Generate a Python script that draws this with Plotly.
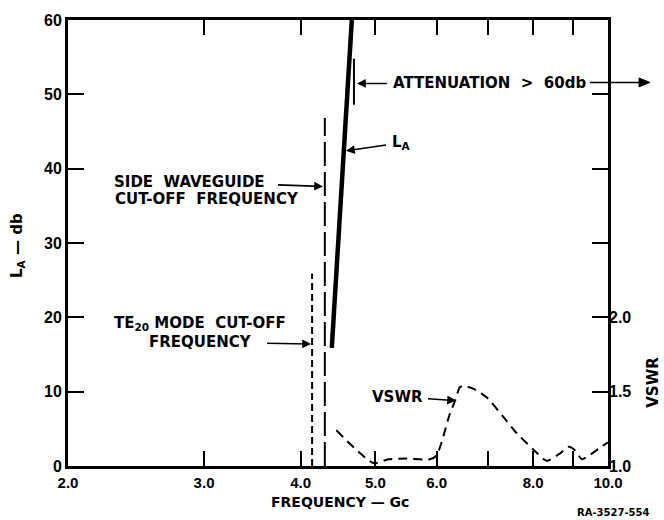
import math
import plotly.graph_objects as go

# ---------------- data ----------------
la_freq = [4.39, 4.66]          # Gc
la_db = [15.9, 60.0]            # L_A in db

te20_freq = [4.14, 4.14]
te20_db = [0.0, 25.9]

side_freq = [4.30, 4.30]
side_db = [0.0, 46.8]

atten_freq = [4.69, 4.69]
atten_db = [48.6, 54.8]

vswr_freq = [4.45, 4.97, 5.20, 5.49, 5.88, 6.00, 6.09, 6.24, 6.34, 6.43, 6.50,
             6.69, 6.97, 7.32, 7.62, 8.01, 8.33, 8.67, 8.89, 9.07, 9.25, 9.57,
             9.81, 10.0]
vswr = [1.24, 1.02, 1.045, 1.05, 1.045, 1.07, 1.16, 1.35, 1.44, 1.53, 1.54,
        1.52, 1.46, 1.33, 1.22, 1.11, 1.035, 1.085, 1.13, 1.105, 1.045, 1.09,
        1.13, 1.16]

x_tickvals = [2, 3, 4, 5, 6, 8, 10]
x_ticktext = ["2.0", "3.0", "4.0", "5.0", "6.0", "8.0", "10.0"]
x_minor_tickvals = [7, 9]
y_tickvals = [0, 10, 20, 30, 40, 50, 60]
y2_tickvals = [1.0, 1.5, 2.0]
y2_ticktext = ["1.0", "1.5", "2.0"]

# ---------------- layout constants ----------------
W, H = 664, 520
L, R, T, B = 68, 608, 16, 466
FONT = "DejaVu Sans"
TICKFONT = "Liberation Sans"


def pp(px, py):
    return (px - L) / (R - L), (B - py) / (B - T)


fig = go.Figure()

fig.add_trace(go.Scatter(x=la_freq, y=la_db, mode="lines",
                         line=dict(color="black", width=4.5), showlegend=False))
fig.add_trace(go.Scatter(x=te20_freq, y=te20_db, mode="lines",
                         line=dict(color="black", width=2, dash="7px,4px"), showlegend=False))
fig.add_trace(go.Scatter(x=side_freq, y=side_db, mode="lines",
                         line=dict(color="black", width=2, dash="24px,6px"), showlegend=False))
fig.add_trace(go.Scatter(x=atten_freq, y=atten_db, mode="lines",
                         line=dict(color="black", width=2), showlegend=False))
fig.add_trace(go.Scatter(x=vswr_freq, y=vswr, mode="lines", yaxis="y2",
                         line=dict(color="black", width=2, dash="9px,6px", shape="spline", smoothing=0.6),
                         showlegend=False))

annotations = []
shapes = []


def text(t, px, py, size=15, xanchor="left", align="left", angle=0, font=FONT, weight="bold"):
    x, y = pp(px, py)
    annotations.append(dict(text=t, x=x, y=y, xref="paper", yref="paper",
                            xanchor=xanchor, yanchor="middle", align=align,
                            showarrow=False, textangle=angle,
                            font=dict(family=font, size=size, color="black", weight=weight)))


def labelled_arrow(t, hx, hy, cx, cy, size=15, start=4):
    # text centred at (cx, cy); arrow drawn from text edge to head (hx, hy)
    x, y = pp(hx, hy)
    annotations.append(dict(text=t, x=x, y=y, xref="paper", yref="paper",
                            ax=cx - hx, ay=cy - hy, axref="pixel", ayref="pixel",
                            showarrow=True, arrowhead=2, arrowsize=1.1, arrowwidth=1.6,
                            arrowcolor="black", standoff=0, startstandoff=start,
                            font=dict(family=FONT, size=size, color="black", weight="bold")))


def plain_arrow(hx, hy, tx, ty):
    x0, y0 = pp(tx, ty)
    x1, _ = pp(hx, hy)
    xa, ya = pp(hx - 11, hy - 4.5)
    xb, yb = pp(hx - 11, hy + 4.5)
    xe, ye = pp(hx - 9, hy)
    shapes.append(dict(type="line", xref="paper", yref="paper", x0=x0, y0=y0, x1=xe, y1=ye,
                       line=dict(color="black", width=1.6)))
    shapes.append(dict(type="path", xref="paper", yref="paper",
                       path=f"M {x1} {y0} L {xa} {ya} L {xb} {yb} Z",
                       fillcolor="black", line=dict(color="black", width=1)))


labelled_arrow("ATTENUATION  &gt;  60db", 357, 80, 489, 80)
plain_arrow(650, 79, 590, 79)

labelled_arrow("L<sub>A</sub>", 346, 148, 401, 140)

labelled_arrow("SIDE  WAVEGUIDE", 323, 184, 189, 179, start=12)
text("CUT-OFF  FREQUENCY", 113, 197)

text("TE<sub>20</sub> MODE  CUT-OFF", 200, 322, xanchor="center", align="center")
labelled_arrow("FREQUENCY", 311, 343, 200, 341, start=14)

labelled_arrow("VSWR", 456, 400, 397, 396)

text("FREQUENCY — Gc", 340, 502, size=14, xanchor="center")
text("L<sub>A</sub> — db", 18, 244, xanchor="center", angle=-90)
text("VSWR", 653, 382, xanchor="center", angle=-90)
text("RA-3527-554", 613, 513, size=10, xanchor="center", font="DejaVu Sans")

tickfont = dict(family=TICKFONT, size=15, color="black", weight="bold")

fig.update_layout(
    width=W, height=H,
    margin=dict(l=L, r=W - R, t=T, b=H - B, pad=0),
    paper_bgcolor="white", plot_bgcolor="white",
    showlegend=False,
    annotations=annotations,
    shapes=shapes,
    xaxis=dict(type="log", range=[math.log10(2), math.log10(10)],
               tickvals=x_tickvals, ticktext=x_ticktext,
               ticks="inside", ticklen=15, tickwidth=2, tickcolor="black",
               minor=dict(tickvals=x_minor_tickvals, ticks="inside", ticklen=15,
                          tickwidth=2, tickcolor="black", showgrid=False),
               showline=True, linewidth=3, linecolor="black", mirror="ticks",
               showgrid=False, zeroline=False, ticklabelstandoff=1,
               tickfont=tickfont),
    yaxis=dict(range=[0, 60], tickvals=y_tickvals,
               ticks="inside", ticklen=16, tickwidth=2, tickcolor="black",
               showline=True, linewidth=3, linecolor="black", mirror="ticks",
               showgrid=False, zeroline=False,
               tickfont=dict(family=TICKFONT, size=16, color="black", weight="bold")),
    yaxis2=dict(overlaying="y", side="right", range=[1.0, 4.0],
                tickvals=y2_tickvals, ticktext=y2_ticktext, ticks="",
                showline=False, showgrid=False, zeroline=False,
                tickfont=dict(family=TICKFONT, size=16, color="black", weight="bold")),
)

fig.write_html("out.html", config={"displayModeBar": False},
               post_script="document.body.style.margin='0px';document.body.style.overflow='hidden';")
